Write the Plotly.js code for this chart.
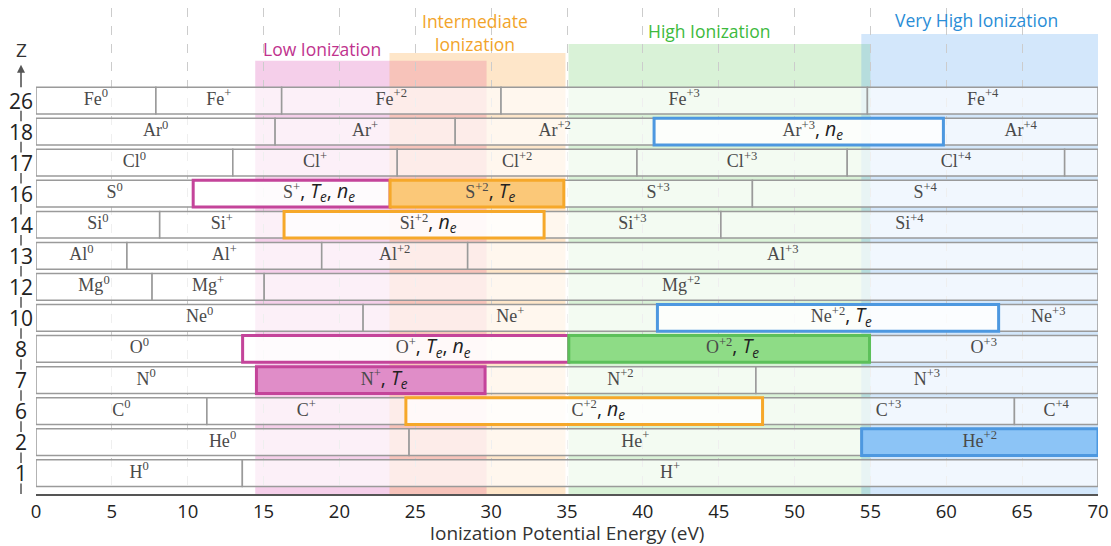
<!DOCTYPE html>
<html><head><meta charset="utf-8">
<script src="https://cdn.plot.ly/plotly-3.0.1.min.js"></script>
<style>html,body{margin:0;padding:0;background:#fff}#chart{width:1111px;height:546px}</style>
</head><body><div id="chart"></div>
<script>
// ---- data ----
const zLabels  = ['1','2','6','7','8','10','12','13','14','16','17','18','26'];
const elements = ['H','He','C','N','O','Ne','Mg','Al','Si','S','Cl','Ar','Fe'];
// ionization potentials (eV) per element
const ipH  = [13.6];
const ipHe = [24.59, 54.42];
const ipC  = [11.26, 24.38, 47.89, 64.49];
const ipN  = [14.53, 29.6, 47.45];
const ipO  = [13.62, 35.12, 54.94];
const ipNe = [21.56, 40.96, 63.45];
const ipMg = [7.65, 15.04];
const ipAl = [5.99, 18.83, 28.45];
const ipSi = [8.15, 16.35, 33.49, 45.14];
const ipS  = [10.36, 23.34, 34.79, 47.22];
const ipCl = [12.97, 23.81, 39.61, 53.47, 67.8];
const ipAr = [15.76, 27.63, 40.74, 59.81];
const ipFe = [7.9, 16.19, 30.65, 54.8];
const ipList = [ipH, ipHe, ipC, ipN, ipO, ipNe, ipMg, ipAl, ipSi, ipS, ipCl, ipAr, ipFe];
const energyMax = 70;

// diagnostic ions
const diagElement = ['S','S','Si','Ar','Ne','O','O','N','C','He'];
const diagStage   = [1, 2, 2, 3, 2, 1, 2, 1, 2, 2];
const diagParams  = [['Te','ne'],['Te'],['ne'],['ne'],['Te'],['Te','ne'],['Te'],['Te'],['ne'],[]];
const diagZone    = [0, 1, 1, 3, 3, 0, 2, 0, 1, 3];
const diagFilled  = [false, true, false, false, false, false, true, true, false, true];

// ionization zones
const zoneNames = ['Low Ionization','Intermediate<br>Ionization','High Ionization','Very High Ionization'];
const zoneStart = [14.45, 23.3, 35.1, 54.4];
const zoneEnd   = [29.7, 34.9, 55.0, 70];

// ---- styles ----
const zoneFill    = ['rgba(222,95,185,0.30)','rgba(250,165,60,0.28)','rgba(105,205,95,0.25)','rgba(80,160,240,0.25)'];
const zoneLine    = ['#c4449a','#f6a82a','#5cc05a','#4d98e0'];
const zoneBoxFill = ['#e08dc8','#fbc878','#8edc86','#8cc4f6'];
const zoneText    = ['#c0338e','#f2a42a','#3dba3d','#2a8dd6'];
const zoneTopY    = [13.28, 13.53, 13.82, 14.14];
const zoneLabelX  = [18.85, 28.94, 44.4, 62.0];
const zoneLabelY  = [13.66, 14.19, 14.23, 14.59];
const barW = 0.86;
const axX = -0.01412; // paper x of left axis line

function stageLabel(el, k){
  if(k===0) return el+'<sup>0</sup>';
  if(k===1) return el+'<sup>+</sup>';
  return el+'<sup>+'+k+'</sup>';
}
function paramHtml(p){
  if(!p.length) return '';
  const parts = p.map(s => '<i>'+s[0]+'<sub>'+s.slice(1)+'</sub></i>');
  return '<span style="font-family:Open Sans;font-size:19.5px;color:#222">, '+parts.join(', ')+'</span>';
}

// base segments
const bY=[], bBase=[], bW=[], tX=[], tY=[], tT=[];
const diagKey = {};
diagElement.forEach((e,j)=>{ diagKey[e+'_'+diagStage[j]] = j; });
const hY=[], hBase=[], hW=[], hFill=[], hLine=[];
elements.forEach((el,i)=>{
  const ips = ipList[i];
  const starts = [0].concat(ips);
  const ends = ips.concat([energyMax]);
  starts.forEach((s,k)=>{
    const e = ends[k];
    bY.push(i); bBase.push(s); bW.push(e-s);
    const j = diagKey[el+'_'+k];
    let label = stageLabel(el,k);
    if(j!==undefined){
      const p = paramHtml(diagParams[j]);
      if(p) label = p.replace('color:#222','color:rgba(0,0,0,0)') + label + p;
      hY.push(i); hBase.push(s); hW.push(e-s);
      hFill.push(diagFilled[j] ? zoneBoxFill[diagZone[j]] : 'rgba(255,255,255,0.7)');
      hLine.push(zoneLine[diagZone[j]]);
    }
    if(e-s > 3){ tX.push((s+e)/2); tY.push(i); tT.push(label); }
  });
});

const traces = [
  {type:'bar', orientation:'h', y:bY, base:bBase, x:bW, width:barW,
   marker:{color:'rgba(255,255,255,0.68)', line:{color:'#9a9a9a', width:1.5}},
   hoverinfo:'skip', showlegend:false},
  {type:'bar', orientation:'h', y:hY, base:hBase, x:hW, width:barW,
   marker:{color:hFill, line:{color:hLine, width:3}},
   hoverinfo:'skip', showlegend:false},
  {type:'scatter', mode:'text', x:tX, y:tY, text:tT, textposition:'middle center',
   textfont:{family:'Liberation Serif', size:18, color:'#4a4a4a'}, cliponaxis:false,
   hoverinfo:'skip', showlegend:false}
];

const shapes = [];
zoneNames.forEach((n,k)=>{
  shapes.push({type:'rect', layer:'below', xref:'x', yref:'y', x0:zoneStart[k], x1:zoneEnd[k],
    y0:-0.67, y1:zoneTopY[k], fillcolor:zoneFill[k], line:{width:0}});
});
// left axis dashes between labels
for(let i=0;i<zLabels.length;i++){
  const yc = i-0.5;
  shapes.push({type:'line', xref:'paper', yref:'y', x0:axX, x1:axX,
    y0: i===0 ? -0.67 : yc-0.17, y1: yc+0.17, line:{color:'#555', width:1.5}});
}

const annotations = [];
zLabels.forEach((z,i)=>{
  annotations.push({xref:'paper', yref:'y', x:axX, y:i, text:z, showarrow:false,
    xanchor:'center', yanchor:'middle', font:{family:'Open Sans', size:21, color:'#222'}});
});
annotations.push({xref:'paper', yref:'y', x:axX, y:13.15, ax:0, ay:24, text:'', showarrow:true,
  arrowhead:2, arrowsize:1, arrowwidth:1.6, arrowcolor:'#555'});
annotations.push({xref:'paper', yref:'y', x:axX, y:13.63, text:'Z', showarrow:false,
  xanchor:'center', yanchor:'middle', font:{family:'Open Sans', size:19, color:'#333'}});
zoneNames.forEach((n,k)=>{
  annotations.push({xref:'x', yref:'y', x:zoneLabelX[k], y:zoneLabelY[k], text:n, showarrow:false,
    xanchor:'center', yanchor:'middle', font:{family:'Open Sans', size:17.5, color:zoneText[k]}});
});

const layout = {
  width:1111, height:546,
  margin:{l:36, r:13, t:8, b:52},
  paper_bgcolor:'#fff', plot_bgcolor:'#fff',
  barmode:'overlay', showlegend:false,
  xaxis:{range:[0,energyMax], tick0:0, dtick:5, showgrid:true, gridcolor:'#cccccc', griddash:'dash',
    gridwidth:1, zeroline:false, showline:true, linecolor:'#555', linewidth:2, ticks:'',
    tickfont:{family:'Open Sans', size:18.5, color:'#222'},
    title:{text:'Ionization Potential Energy (eV)', font:{family:'Open Sans', size:19, color:'#333'}, standoff:0},
    automargin:false, fixedrange:true},
  yaxis:{range:[-0.67,14.98], showgrid:false, zeroline:false, showticklabels:false, showline:false,
    automargin:false, fixedrange:true},
  shapes:shapes, annotations:annotations
};
Plotly.newPlot('chart', traces, layout, {displayModeBar:false, staticPlot:true});
</script></body></html>
